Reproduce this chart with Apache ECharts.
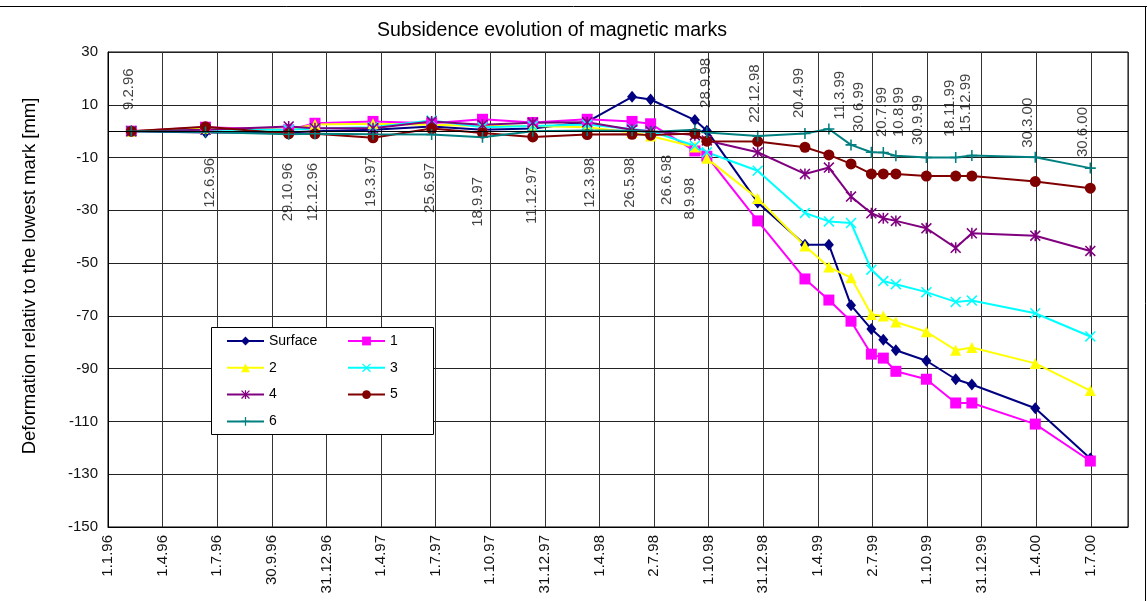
<!DOCTYPE html>
<html>
<head>
<meta charset="utf-8">
<title>Subsidence evolution of magnetic marks</title>
<script src="https://cdn.jsdelivr.net/npm/echarts@6.0.0/dist/echarts.min.js"></script>
<style>
html, body { margin: 0; padding: 0; background: #fff; }
#main { width: 1147px; height: 601px; }
</style>
</head>
<body>
<div id="main"></div>
<script>
// measurement dates (d.m.yy)
var measDates = ['9.2.96', '12.6.96', '29.10.96', '12.12.96', '19.3.97', '25.6.97', '18.9.97', '11.12.97',
    '12.3.98', '26.5.98', '26.6.98', '8.9.98', '28.9.98', '22.12.98', '11.3.99', '20.4.99', '27.5.99',
    '30.6.99', '20.7.99', '10.8.99', '30.9.99', '18.11.99', '15.12.99', '30.3.00', '30.6.00'];

// deformation [mm] per mark
var surface = [0, -0.5, -0.5, 0, 0.5, 1.8, 0.5, 1, 3.5, 13, 12, 4.2, 0.2, -27, -43, -43, -66, -75, -79, -83, -87, -94, -96, -105, -124];
var mark1 = [0, 1.5, 0.5, 3, 3.7, 3, 4.5, 3.3, 4.5, 3.7, 2.8, -7.5, -9.5, -34, -56, -64, -72, -84.5, -86, -91, -94, -103, -103, -111, -125];
var mark2 = [0, 1, 0.5, 2.5, 2.8, 2.4, 2, 2, 1.5, -0.5, -1.8, -6, -10.3, -25.5, -43.5, -51.5, -55.5, -69.5, -70, -72.3, -76, -83, -82, -88, -98.3];
var mark3 = [0, 0.5, 0.5, 1, 1.5, 4, 1.5, 2, 2.5, 0.8, 0, -5.5, -8, -15, -31, -34.2, -34.8, -52.5, -56.8, -58, -61, -64.7, -64.2, -69, -77.8];
var mark4 = [0, 0.5, 1.8, 1.1, 1.1, 3.7, 2.4, 3.2, 3.4, 0.5, 0, -1.5, -3.5, -8, -16.2, -13.8, -24.8, -31.1, -33, -34, -36.8, -44.2, -38.7, -39.6, -45.4];
var mark5 = [0, 1.7, -1, -1, -2.5, 1, -0.7, -2.2, -1.3, -1.2, -1.5, -0.9, -3.8, -3.9, -6.1, -9, -12.4, -16.2, -16.2, -16.2, -17, -17, -17, -19.1, -21.6];
var mark6 = [0, -0.3, -1.2, -1, -1.2, -1.3, -2.3, 0, 0.3, 0.2, -0.3, 0.5, -0.5, -1.8, -0.9, 0.8, -5.2, -8, -8.1, -9.3, -10, -10, -9.2, -9.9, -14];

// x axis tick labels (every 1/18 of 1.1.96 .. 1.7.00)
var tickLabels = ['1.1.96', '1.4.96', '1.7.96', '30.9.96', '31.12.96', '1.4.97', '1.7.97', '1.10.97', '31.12.97',
    '1.4.98', '2.7.98', '1.10.98', '31.12.98', '1.4.99', '2.7.99', '1.10.99', '31.12.99', '1.4.00', '1.7.00'];

// date annotations written in the plot
var labelTexts = ['9.2.96', '12.6.96', '29.10.96', '12.12.96', '19.3.97', '25.6.97', '18.9.97', '11.12.97',
    '12.3.98', '26.5.98', '26.6.98', '8.9.98', '28.9.98', '22.12.98', '20.4.99', '11.3.99', '30.6.99',
    '20.7.99', '10.8.99', '30.9.99', '18.11.99', '15.12.99', '30.3.00', '30.6.00'];
// anchor of each annotation: day, value, and whether the text goes up from it
var labelDays = [35, 170, 300, 343, 440, 538, 618, 708, 805, 872, 934, 973, 1000, 1082, 1155, 1224, 1255, 1294, 1322, 1353, 1408, 1434, 1537, 1629];
var labelVals = [8, -10.1, -12, -12, -9.8, -12, -17.3, -13.5, -10.1, -10.1, -9, -17.7, 8.8, 3.2, 5, 4.3, -0.3, -2.2, -2.2, -5.2, -2.2, -0.3, -6.3, -9.8];
var labelUp = [1, 0, 0, 0, 0, 0, 0, 0, 0, 0, 0, 0, 1, 1, 1, 1, 1, 1, 1, 1, 1, 1, 1, 1];

function dayNo(s) {
    var p = s.split('.');
    var y = +p[2];
    y += (y < 50) ? 2000 : 1900;
    return (Date.UTC(y, +p[1] - 1, +p[0]) - Date.UTC(1996, 0, 1)) / 86400000;
}

var xInterval = dayNo('1.7.00') / 18;
var FONT = '"Liberation Sans", Arial, sans-serif';

var xPath = 'path://M0,1L1,0L5,4L9,0L10,1L6,5L10,9L9,10L5,6L1,10L0,9L4,5Z';
var plusPath = 'path://M4.3,0H5.7V4.3H10V5.7H5.7V10H4.3V5.7H0V4.3H4.3Z';
var starPath = 'path://M0,1L1,0L5,4L9,0L10,1L6,5L10,9L9,10L5,6L1,10L0,9L4,5Z M4.3,0H5.7V10H4.3Z';

function pts(vals) {
    return measDates.map(function (d, i) { return [dayNo(d), vals[i]]; });
}

function lineSeries(name, vals, color, symbol, size) {
    return {
        name: name,
        type: 'line',
        data: pts(vals),
        symbol: symbol,
        symbolSize: size,
        showAllSymbol: true,
        lineStyle: { color: color, width: 2 },
        itemStyle: { color: color },
        emphasis: { disabled: true }
    };
}

var series = [
    lineSeries('Surface', surface, '#000080', 'diamond', [10, 12]),
    lineSeries('1', mark1, '#FF00FF', 'rect', 11),
    lineSeries('2', mark2, '#FFFF00', 'triangle', 11),
    lineSeries('3', mark3, '#00FFFF', xPath, 11),
    lineSeries('4', mark4, '#800080', starPath, 11),
    lineSeries('5', mark5, '#800000', 'circle', 11),
    lineSeries('6', mark6, '#008080', plusPath, 11)
];

// zero line (horizontal axis crosses at 0)
series[0].markLine = {
    silent: true,
    symbol: 'none',
    label: { show: false },
    lineStyle: { color: '#000', width: 1, type: 'solid' },
    data: [{ yAxis: 0 }]
};

series.push({
    name: 'dates',
    type: 'scatter',
    symbolSize: 1,
    silent: true,
    itemStyle: { color: 'rgba(0,0,0,0)' },
    z: 5,
    data: labelTexts.map(function (t, i) {
        return {
            value: [labelDays[i], labelVals[i]],
            label: {
                show: true,
                formatter: t,
                position: 'inside',
                rotate: 90,
                align: labelUp[i] ? 'left' : 'right',
                verticalAlign: 'middle',
                color: '#111',
                fontSize: 15,
                fontFamily: FONT
            }
        };
    })
});

var chart = echarts.init(document.getElementById('main'));

chart.setOption({
    animation: false,
    backgroundColor: '#fff',
    grid: { left: 108, right: 19, top: 52, bottom: 74, show: true, borderColor: '#000', borderWidth: 1, backgroundColor: '#fff' },
    xAxis: {
        type: 'value',
        min: 0,
        max: 1705,
        interval: xInterval,
        axisLine: { show: true, onZero: false, lineStyle: { color: '#000' } },
        axisTick: { show: false },
        splitLine: { show: true, lineStyle: { color: '#333', width: 1 } },
        axisLabel: {
            rotate: 90,
            margin: 8,
            color: '#111',
            fontSize: 15,
            fontFamily: FONT,
            showMaxLabel: false,
            formatter: function (v) {
                var i = Math.round(v / xInterval);
                if (Math.abs(v - i * xInterval) > 1 || i >= tickLabels.length) return '';
                return tickLabels[i];
            }
        }
    },
    yAxis: {
        type: 'value',
        min: -150,
        max: 30,
        interval: 10,
        axisLine: { show: true, lineStyle: { color: '#000' } },
        axisTick: { show: false },
        splitLine: { show: true, lineStyle: { color: ['#222', 'rgba(0,0,0,0)'], width: 1 } },
        axisLabel: {
            margin: 10,
            color: '#111',
            fontSize: 15,
            fontFamily: FONT,
            formatter: function (v) {
                return ((v + 150) % 20 === 0) ? String(v) : '';
            }
        }
    },
    legend: [
        {
            data: ['Surface', '2', '4', '6'],
            orient: 'vertical',
            left: 226, top: 334, padding: 0,
            itemWidth: 37, itemHeight: 11, itemGap: 12.8,
            selectedMode: false,
            textStyle: { color: '#000', fontSize: 14, fontFamily: FONT }
        },
        {
            data: ['1', '3', '5'],
            orient: 'vertical',
            left: 347, top: 334, padding: 0,
            itemWidth: 37, itemHeight: 11, itemGap: 12.8,
            selectedMode: false,
            textStyle: { color: '#000', fontSize: 14, fontFamily: FONT }
        }
    ],
    graphic: [
        { type: 'rect', z: 3, shape: { x: 211.5, y: 327.5, width: 222, height: 107 }, style: { fill: '#fff', stroke: '#000', lineWidth: 1 } },
        { type: 'line', z: 3, shape: { x1: 0, y1: 6.5, x2: 1147, y2: 6.5 }, style: { stroke: '#000', lineWidth: 1 } },
        { type: 'line', z: 3, shape: { x1: 1145.5, y1: 6.5, x2: 1145.5, y2: 601 }, style: { stroke: '#000', lineWidth: 1 } },
        {
            type: 'text', z: 3, x: 552, y: 31,
            style: { text: 'Subsidence evolution of magnetic marks', fill: '#000', fontSize: 19.5, fontFamily: FONT, align: 'center', verticalAlign: 'middle' }
        },
        {
            type: 'text', z: 3, x: 30, y: 276, rotation: Math.PI / 2,
            style: { text: 'Deformation relativ to the lowest mark [mm]', fill: '#000', fontSize: 18.5, fontFamily: FONT, align: 'center', verticalAlign: 'middle' }
        }
    ],
    series: series
});
</script>
</body>
</html>
